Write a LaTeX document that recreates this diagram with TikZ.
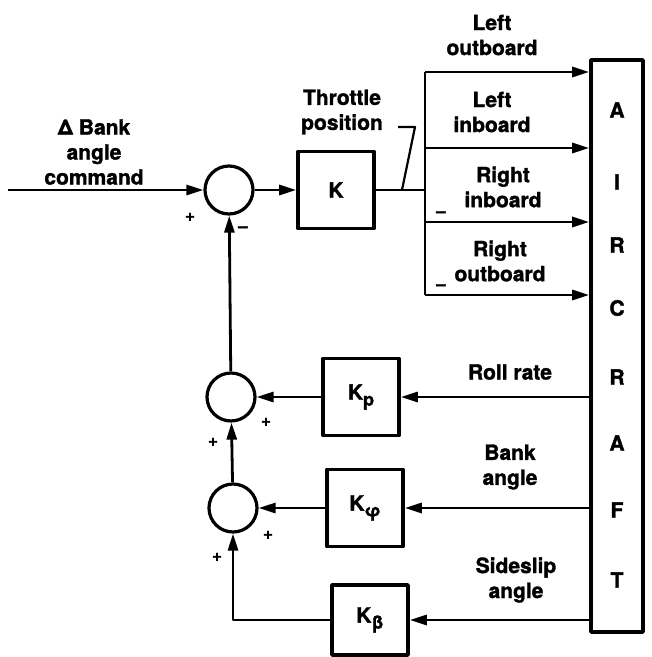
\documentclass[tikz,border=0pt]{standalone}
\usepackage{fontspec}
\setmainfont{TeX Gyre Heros}[BoldFeatures={FakeBold=1.5}]
\usetikzlibrary{arrows.meta}
\newcommand\lblfont{\fontsize{21}{25}\selectfont\bfseries}
\newcommand\sgnfont{\fontsize{17}{17}\selectfont\bfseries}
\newcommand\subsc[1]{\raisebox{-6pt}{\fontsize{18}{18}\selectfont #1}}
\begin{document}
\begin{tikzpicture}[x=1pt,y=-1pt, line width=2.8pt, line join=round,
  blk/.style={draw,line width=3.6pt,minimum width=76pt,minimum height=77pt,inner sep=0pt,font=\lblfont},
  sum/.style={draw,circle,line width=3.2pt,minimum size=48pt,inner sep=0pt},
  arr/.style={-{Triangle[length=17pt,width=10pt]}},
  lbl/.style={font=\lblfont,align=center,inner sep=0pt},
  sgn/.style={font=\sgnfont,inner sep=0pt}]
\useasboundingbox (0,0) rectangle (652,657);

% aircraft block
\node[draw,line width=3.6pt,minimum width=52pt,minimum height=572pt,inner sep=0pt] (ac) at (617,346) {};
\foreach \l/\y [count=\i] in {A/110,I/182,R/245,C/308,R/377,A/443,F/510,T/580}
  \node[lbl] (let\i) at (617,\y) {\l};

% summing junctions and gains
\node[sum] (s1) at (229,190) {};
\node[sum] (s2) at (231,397) {};
\node[sum] (s3) at (233,508) {};
\node[blk] (K) at (336,190) {K};
\node[blk] (Kp) at (361,397) {K\subsc{p}};
\node[blk] (Kf) at (365,508) {K\subsc{φ}};
\node[blk,minimum height=70pt] (Kb) at (370,620) {K\subsc{β}};

% forward path
\coordinate (in) at (8,190);
\draw[arr] (in) -- (s1);
\draw[arr] (s1) -- (K);
\coordinate (j) at (425,190);
\draw (K) -- (j);
\coordinate (b1) at (425,72);
\coordinate (b2) at (425,148);
\coordinate (b3) at (425,222);
\coordinate (b4) at (425,295);
\draw (b1) -- (b4);
\draw[arr] (b1) -- (b1 -| ac.west);
\draw[arr] (b2) -- (b2 -| ac.west);
\draw[arr] (b3) -- (b3 -| ac.west);
\draw[arr] (b4) -- (b4 -| ac.west);

% throttle leader
\coordinate (t1) at (398,127);
\coordinate (t2) at (415,127);
\coordinate (t3) at (402,190);
\draw[line width=2.2pt] (t1) -- (t2) -- (t3);

% feedback paths
\draw[arr] (ac.west |- Kp) -- (Kp);
\draw[arr] (Kp) -- (s2);
\draw[arr] (ac.west |- Kf) -- (Kf);
\draw[arr] (Kf) -- (s3);
\draw[arr] (ac.west |- Kb) -- (Kb);
\coordinate (c) at (s3 |- Kb);
\draw[arr] (Kb) -- (c) -- (s3);
\draw[arr] (s3) -- (s2);
\draw[arr] (s2) -- (s1);

% signs
\node[sgn] (p1) at (190,217) {+};
\node[sgn] (m1) at (243,229) {–};
\node[sgn] (p2) at (266,422) {+};
\node[sgn] (p3) at (213,442) {+};
\node[sgn] (p4) at (268,535) {+};
\node[sgn] (p5) at (217,557) {+};
\node[sgn] (m2) at (441,214) {–};
\node[sgn] (m3) at (441,287) {–};

% labels
\node[lbl] (cmd) at (94,152) {Δ Bank\\angle\\command};
\node[lbl] (thr) at (342,112) {Throttle\\position};
\node[lbl] (lo) at (492,35) {Left\\outboard};
\node[lbl] (li) at (492,112) {Left\\inboard};
\node[lbl] (ri) at (503,187) {Right\\inboard};
\node[lbl] (ro) at (500,261) {Right\\outboard};
\node[lbl] (rr) at (510,372) {Roll rate};
\node[lbl] (ba) at (510,467) {Bank\\angle};
\node[lbl] (sa) at (516,580) {Sideslip\\angle};
\end{tikzpicture}
\end{document}
